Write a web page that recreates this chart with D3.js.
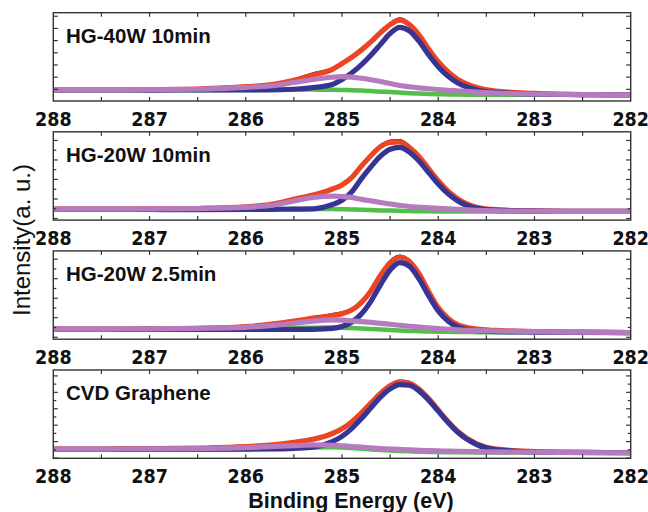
<!DOCTYPE html>
<html>
<head>
<meta charset="utf-8">
<script src="https://cdn.jsdelivr.net/npm/d3@7"></script>
<style>
  body { margin: 0; background: #fff; }
  svg { display: block; }
</style>
</head>
<body>
<svg width="648" height="512"></svg>
<script>
// binding energy grid (eV), high to low
const energy = [288, 287.5, 287, 286.5, 286, 285.75, 285.5, 285.3, 285.1, 285.0, 284.9, 284.8, 284.7, 284.6, 284.5, 284.4, 284.3, 284.2, 284.1, 284.0, 283.9, 283.8, 283.6, 283.4, 283, 282.5, 282];
const xTickLabels = [288, 287, 286, 285, 284, 283, 282];
const panelNames = ["HG-40W 10min", "HG-20W 10min", "HG-20W 2.5min", "CVD Graphene"];

// HG-40W 10min
const raw40w10 = [13.6, 12.0, 13.8, 14.2, 17.0, 17.6, 24.4, 31.5, 37.2, 43.4, 49.9, 58.4, 67.7, 78.4, 88.0, 93.6, 88.0, 75.5, 59.5, 45.0, 34.0, 24.2, 15.8, 10.2, 9.6, 6.6, 7.6];
const fit40w10 = [12.8, 12.8, 12.9, 13.5, 16.2, 18.2, 23.5, 29.5, 35.9, 42.4, 49.3, 57.6, 66.9, 77.4, 86.5, 91.5, 86.5, 74.8, 58.8, 44.4, 33.2, 24.8, 15.2, 11.1, 8.6, 7.3, 7.0];
const sp2_40w10 = [12.5, 12.5, 12.4, 12.5, 12.6, 12.6, 13.3, 15.2, 18.7, 24.4, 31.7, 41.0, 51.8, 64.1, 76.4, 83.4, 79.3, 67.7, 52.5, 38.9, 28.3, 20.7, 12.4, 9.4, 7.9, 7.1, 7.0];
const sp3_40w10 = [12.8, 12.8, 12.9, 13.3, 15.5, 17.0, 20.9, 24.4, 26.9, 27.5, 27.0, 25.8, 24.1, 22.1, 19.9, 17.6, 16.1, 14.9, 13.9, 13.0, 12.2, 11.4, 10.0, 8.9, 7.9, 7.3, 7.0];
const cox40w10 = [12.5, 12.5, 12.4, 12.3, 12.5, 12.6, 12.9, 12.9, 12.7, 12.5, 12.2, 11.8, 11.2, 10.6, 10.1, 9.5, 8.9, 8.4, 8.0, 7.7, 7.5, 7.3, 7.2, 7.2, 7.2, 7.1, 7.0];

// HG-20W 10min
const raw20w10 = [13.5, 11.8, 13.2, 12.6, 15.8, 17.0, 24.5, 29.5, 35.0, 41.0, 48.5, 62.0, 73.5, 84.0, 90.0, 90.5, 84.0, 72.5, 59.0, 45.5, 32.5, 25.0, 14.0, 12.8, 9.8, 10.8, 9.2];
const fit20w10 = [12.5, 12.5, 12.6, 13.1, 14.9, 17.5, 23.6, 28.4, 35.2, 39.8, 48.1, 61.0, 72.9, 83.1, 88.0, 88.5, 82.0, 72.1, 58.3, 44.6, 33.1, 24.4, 14.6, 11.8, 10.4, 9.9, 9.8];
const sp2_20w10 = [12.2, 12.1, 12.0, 11.9, 12.0, 12.1, 12.4, 12.7, 17.6, 22.5, 31.7, 46.7, 60.3, 72.4, 80.2, 82.3, 77.1, 67.0, 53.9, 40.8, 30.0, 22.0, 13.3, 11.1, 10.1, 9.8, 9.8];
const sp3_20w10 = [12.5, 12.5, 12.6, 13.1, 14.4, 16.5, 21.6, 25.6, 27.2, 26.7, 25.7, 23.5, 21.8, 19.9, 18.2, 16.7, 15.4, 14.6, 13.9, 13.4, 12.7, 12.1, 11.0, 10.4, 10.0, 9.9, 9.8];
const cox20w10 = [12.2, 12.1, 12.0, 11.9, 12.1, 12.3, 12.6, 12.7, 12.6, 12.4, 12.1, 11.8, 11.4, 11.0, 10.8, 10.5, 10.2, 10.1, 9.9, 9.8, 9.8, 9.7, 9.7, 9.7, 9.7, 9.8, 9.8];

// HG-20W 2.5min
const raw20w25 = [12.2, 10.8, 12.4, 11.8, 15.0, 16.0, 21.2, 24.5, 28.5, 30.5, 33.8, 42.0, 55.5, 73.0, 88.5, 94.8, 89.8, 74.5, 54.8, 36.5, 24.6, 16.0, 12.2, 9.2, 9.6, 7.0, 8.3];
const fit20w25 = [11.4, 11.5, 11.6, 12.3, 14.3, 16.7, 20.5, 23.9, 26.8, 28.8, 33.0, 41.4, 54.7, 72.3, 86.5, 92.8, 88.0, 74.2, 54.1, 35.8, 23.9, 16.6, 11.4, 9.9, 8.7, 7.9, 7.5];
const sp2_20w25 = [11.2, 11.2, 11.1, 11.0, 11.1, 11.0, 11.0, 11.2, 12.2, 14.3, 19.2, 28.4, 42.9, 61.6, 78.4, 86.8, 82.7, 68.3, 49.3, 32.0, 20.7, 14.0, 9.6, 8.6, 8.1, 7.7, 7.5];
const sp3_20w25 = [11.4, 11.5, 11.6, 12.2, 13.5, 15.3, 18.0, 20.4, 21.8, 21.5, 20.8, 20.0, 19.0, 18.0, 16.9, 15.8, 14.7, 13.8, 12.8, 11.9, 11.2, 10.6, 9.8, 9.3, 8.5, 7.9, 7.5];
const cox20w25 = [11.2, 11.2, 11.1, 11.1, 11.5, 12.0, 12.7, 13.1, 13.2, 13.0, 12.6, 12.2, 11.6, 11.1, 10.5, 9.9, 9.4, 9.1, 8.8, 8.5, 8.4, 8.2, 8.0, 8.0, 7.9, 7.7, 7.5];

// CVD Graphene
const rawCVD = [11.2, 9.8, 11.6, 12.5, 14.0, 14.3, 18.9, 22.8, 27.5, 34.5, 41.0, 52.0, 63.0, 74.5, 83.5, 88.0, 86.5, 79.0, 67.0, 55.5, 41.5, 31.5, 16.0, 10.8, 7.2, 7.6, 5.8];
const fitCVD = [10.4, 10.5, 10.8, 11.5, 13.2, 15.1, 18.1, 21.5, 28.1, 33.5, 41.2, 51.2, 62.5, 73.5, 82.1, 86.4, 85.1, 78.4, 67.6, 54.7, 41.9, 30.7, 16.3, 10.3, 7.7, 6.7, 6.3];
const sp2CVD = [10.2, 10.1, 10.2, 10.3, 10.5, 10.7, 11.3, 12.6, 18.9, 24.9, 33.6, 44.7, 57.2, 69.2, 78.6, 83.5, 82.7, 76.4, 65.9, 53.4, 40.7, 29.6, 15.5, 9.7, 7.3, 6.6, 6.3];
const sp3CVD = [10.4, 10.5, 10.6, 11.1, 12.1, 13.2, 14.4, 15.2, 14.8, 14.2, 13.4, 12.6, 11.8, 11.1, 10.5, 10.0, 9.5, 9.1, 8.7, 8.3, 8.1, 7.9, 7.5, 7.2, 6.9, 6.5, 6.3];
const coxCVD = [10.2, 10.1, 10.0, 9.9, 10.0, 10.4, 11.2, 12.1, 12.4, 12.2, 11.6, 10.9, 10.1, 9.4, 8.8, 8.3, 7.9, 7.5, 7.2, 7.0, 6.9, 6.8, 6.7, 6.6, 6.5, 6.4, 6.3];

const panels = [
  { name: panelNames[0], raw: raw40w10, fit: fit40w10, sp2: sp2_40w10, sp3: sp3_40w10, cox: cox40w10, tick0: 13.2, tickStep: 13.8, minor: false },
  { name: panelNames[1], raw: raw20w10, fit: fit20w10, sp2: sp2_20w10, sp3: sp3_20w10, cox: cox20w10, tick0: 1.8, tickStep: 11.05, minor: true },
  { name: panelNames[2], raw: raw20w25, fit: fit20w25, sp2: sp2_20w25, sp3: sp3_20w25, cox: cox20w25, tick0: 2.2, tickStep: 11.05, minor: true },
  { name: panelNames[3], raw: rawCVD, fit: fitCVD, sp2: sp2CVD, sp3: sp3CVD, cox: coxCVD, tick0: 0.3, tickStep: 9.3, minor: true }
];

const svg = d3.select("svg");
const left = 53.3, right = 630.7;
const panelTop = [12.7, 131.8, 250.9, 370];
const panelH = 88.3;

const x = d3.scaleLinear().domain([288, 282]).range([left, right]);

// colors of each trace
const colors = { raw: "#151515", fit: "#ec4524", cox: "#52bf48", sp2: "#363593", sp3: "#b67bbf" };

panels.forEach(function (p, i) {
  const top = panelTop[i];
  const y = d3.scaleLinear().domain([0, 100]).range([top + panelH, top]);
  const g = svg.append("g");

  g.append("clipPath").attr("id", "clip" + i)
    .append("rect").attr("x", left).attr("y", top).attr("width", right - left).attr("height", panelH);

  const line = d3.line()
    .x(function (d) { return x(d[0]); })
    .y(function (d) { return y(d[1]); })
    .curve(d3.curveMonotoneX);

  const plot = g.append("g").attr("clip-path", "url(#clip" + i + ")");
  // draw order: data, fit, components
  [["raw", 2.2], ["fit", 5.2], ["cox", 4.5], ["sp2", 5.2], ["sp3", 5.2]].forEach(function (s) {
    const vals = p[s[0]];
    plot.append("path")
      .attr("d", line(energy.map(function (e, k) { return [e, vals[k]]; })))
      .attr("fill", "none")
      .attr("stroke", colors[s[0]])
      .attr("stroke-width", s[1])
      .attr("stroke-linejoin", "round");
  });

  // x ticks top & bottom, every 0.5 eV
  const xt = d3.range(287.5, 282.1, -0.5);
  g.selectAll(".xtb").data(xt).enter().append("line")
    .attr("x1", d => x(d)).attr("x2", d => x(d))
    .attr("y1", top + panelH).attr("y2", top + panelH - 4)
    .attr("stroke", "#333").attr("stroke-width", 1.2);
  g.selectAll(".xtt").data(xt).enter().append("line")
    .attr("x1", d => x(d)).attr("x2", d => x(d))
    .attr("y1", top).attr("y2", top + 4)
    .attr("stroke", "#333").attr("stroke-width", 1.2);

  // y ticks left & right
  const yt = d3.range(p.tick0, 99, p.tickStep);
  yt.forEach(function (v, k) {
    const len = (p.minor && k % 2 === 1) ? 3 : 4.5;
    g.append("line").attr("x1", left).attr("x2", left + len)
      .attr("y1", y(v)).attr("y2", y(v)).attr("stroke", "#333").attr("stroke-width", 1.2);
    g.append("line").attr("x1", right).attr("x2", right - len)
      .attr("y1", y(v)).attr("y2", y(v)).attr("stroke", "#333").attr("stroke-width", 1.2);
  });

  // frame
  g.append("rect").attr("x", left).attr("y", top)
    .attr("width", right - left).attr("height", panelH)
    .attr("fill", "none").attr("stroke", "#333").attr("stroke-width", 1.4);

  // tick labels
  g.selectAll(".xl").data(xTickLabels).enter().append("text")
    .attr("x", d => x(d)).attr("y", top + panelH + 24.5)
    .attr("text-anchor", "middle")
    .attr("font-family", "'Liberation Sans Narrow', 'DejaVu Sans Condensed', 'Arial Narrow', sans-serif")
    .attr("font-weight", "bold").attr("font-size", 19.5)
    .attr("fill", "#111")
    .text(d => d);

  g.append("text").attr("x", 66).attr("y", top + 30)
    .attr("font-family", "'Liberation Sans', Arial, sans-serif")
    .attr("font-weight", "bold").attr("font-size", 20.5)
    .attr("fill", "#111")
    .text(p.name);
});

svg.append("text").attr("x", 351).attr("y", 508)
  .attr("text-anchor", "middle")
  .attr("font-family", "'Liberation Sans', Arial, sans-serif")
  .attr("font-weight", "bold").attr("font-size", 21.5)
  .attr("fill", "#111")
  .text("Binding Energy (eV)");

svg.append("text")
  .attr("transform", "translate(30,240) rotate(-90)")
  .attr("text-anchor", "middle")
  .attr("font-family", "'Liberation Sans', Arial, sans-serif")
  .attr("font-size", 24)
  .attr("fill", "#111")
  .text("Intensity(a. u.)");
</script>
</body>
</html>
